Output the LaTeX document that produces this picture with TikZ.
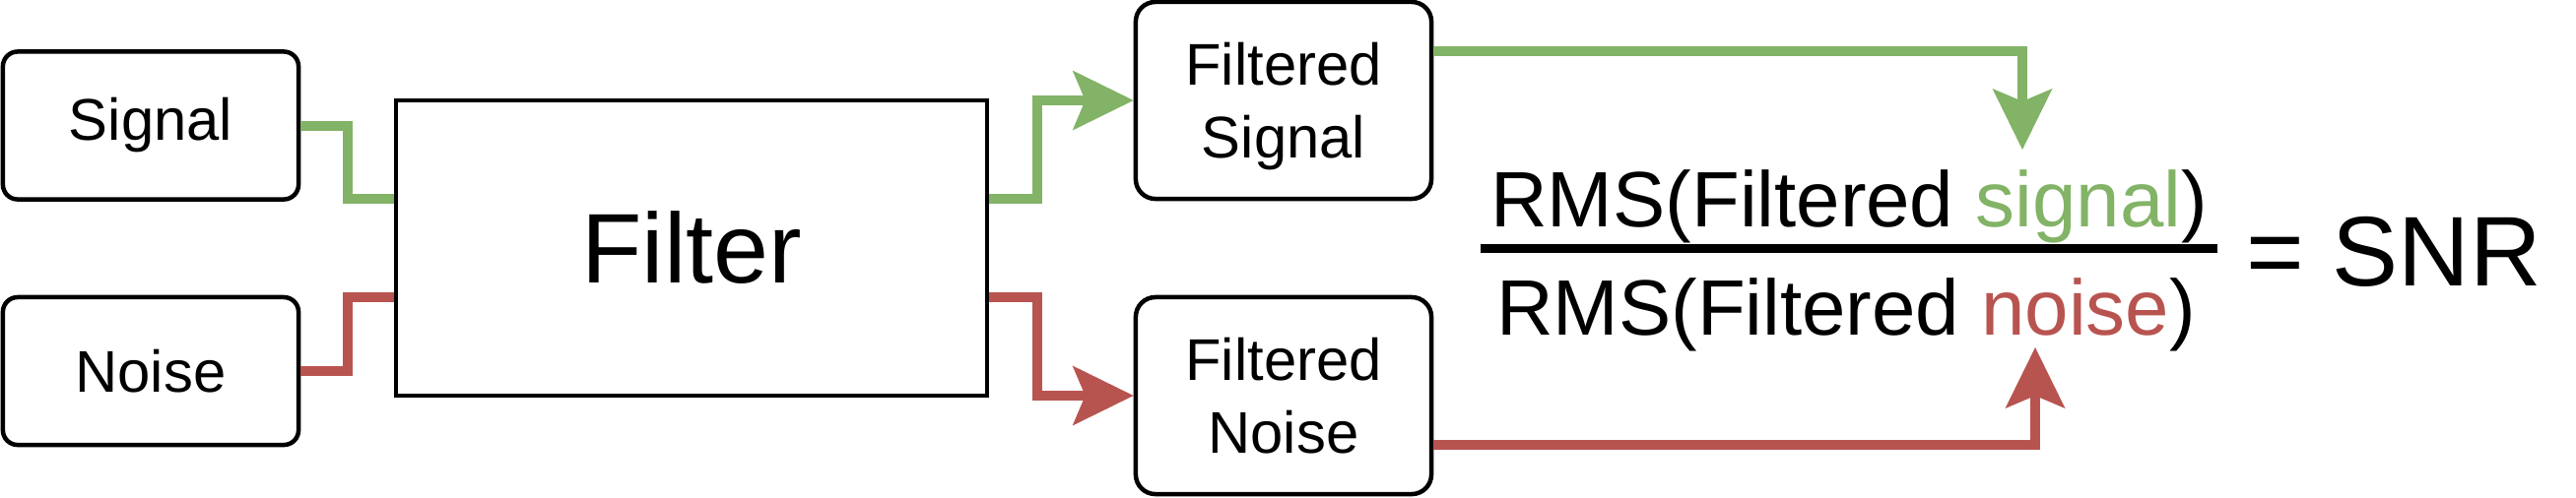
\documentclass[tikz,border=0pt]{standalone}
\usepackage{fontspec}
\setmainfont{Liberation Sans}
\usetikzlibrary{arrows.meta}
\definecolor{sigc}{HTML}{82B366}
\definecolor{noic}{HTML}{B85450}
\begin{document}
\begin{tikzpicture}[x=0.01cm, y=-0.01cm,
  box/.style={draw=black, line width=0.045cm, rounded corners=0.15cm, minimum width=3cm, minimum height=1.5cm, inner sep=0pt, font=\fontsize{17}{21}\selectfont, align=center},
  tallbox/.style={box, rounded corners=0.2cm, minimum height=2cm, text depth=0pt},
  filterbox/.style={draw=black, line width=0.045cm, minimum width=6cm, minimum height=3cm, inner sep=0pt, font=\fontsize{28.6}{33}\selectfont},
  fractext/.style={inner sep=0pt, anchor=base, font=\fontsize{22.7}{26}\selectfont},
  bigtext/.style={inner sep=0pt, font=\fontsize{28.6}{33}\selectfont},
  conn/.style={line width=0.1cm},
  sigline/.style={conn, draw=sigc},
  noiline/.style={conn, draw=noic},
  tip/.style={-{Stealth[length=0.62cm, width=0.61cm, inset=0.13cm, line width=0pt]}}
]
\useasboundingbox (0,0) rectangle (2615,505);

\node[box] (sig) at (153,127.5) {Signal};
\node[box] (noi) at (153,377) {Noise};
\node[filterbox] (filter) at (702,252) {Filter};
\node[tallbox] (fs) at (1303,102) {Filtered\\Signal};
\node[tallbox] (fn) at (1303,402) {Filtered\\Noise};

\node[fractext] (num) at (1877,230) {RMS(Filtered \textcolor{sigc}{signal})};
\node[fractext] (den) at (1874,340) {RMS(Filtered \textcolor{noic}{noise})};
\coordinate (barL) at (1503,252);
\coordinate (barR) at (2251,252);
\draw[line width=0.09cm] (barL) -- (barR);
\node[bigtext, anchor=base west] (snr) at (2280,290) {= SNR};

\coordinate (sigtip) at (2053,152);
\coordinate (noitip) at (2066,353);

\draw[sigline] (sig.east) -- ++(0.48cm,0) |- ([yshift=0.5cm]filter.west);
\draw[noiline] (noi.east) -- ++(0.48cm,0) |- ([yshift=-0.5cm]filter.west);
\draw[sigline, tip] ([yshift=0.5cm]filter.east) -- ++(0.49cm,0) |- (fs.west);
\draw[noiline, tip] ([yshift=-0.5cm]filter.east) -- ++(0.49cm,0) |- (fn.west);
\draw[sigline, tip] ([yshift=0.5cm]fs.east) -| (sigtip);
\draw[noiline, tip] ([yshift=-0.5cm]fn.east) -| (noitip);
\end{tikzpicture}
\end{document}
